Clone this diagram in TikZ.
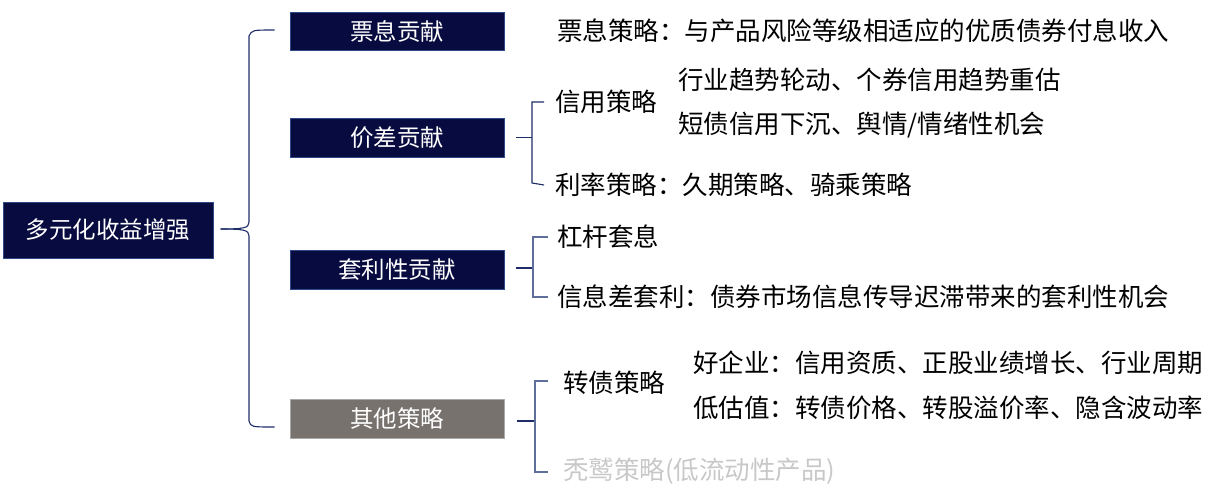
\documentclass[tikz,border=0pt]{standalone}
\usepackage{fontspec}
\newfontfamily\cjk{Noto Sans CJK SC}
\usetikzlibrary{calc}
\definecolor{navy}{RGB}{8,11,64}
\definecolor{navyedge}{RGB}{47,75,135}
\definecolor{boxgray}{RGB}{120,114,111}
\definecolor{grayedge}{RGB}{170,170,170}
\definecolor{brline}{RGB}{30,45,105}
\definecolor{brlight}{RGB}{95,110,155}
\definecolor{lighttext}{RGB}{200,200,200}
\tikzset{
  darkbox/.style={draw=navyedge, line width=1pt, fill=navy, text=white, font=\cjk\fontsize{23.5}{26}\selectfont, inner sep=0pt},
  graybox/.style={draw=grayedge, line width=1pt, fill=boxgray, text=white, font=\cjk\fontsize{23.5}{26}\selectfont, inner sep=0pt},
  lbl/.style={anchor=west, inner sep=0pt, font=\cjk\fontsize{25.5}{28}\selectfont, text=black},
  brace/.style={draw=brline, line width=1.1pt},
  lightbrace/.style={draw=brlight, line width=1.1pt}
}
\begin{document}
\begin{tikzpicture}[x=1pt,y=-1pt]
\useasboundingbox (0,0) rectangle (1224,499);
% main box
\node[darkbox, minimum width=210, minimum height=56] (main) at (108,230) {多元化收益增强};
% level-1 boxes
\node[darkbox, minimum width=214, minimum height=38] (b1) at (397,31) {票息贡献};
\node[darkbox, minimum width=214, minimum height=39] (b2) at (397,137.5) {价差贡献};
\node[darkbox, minimum width=214, minimum height=39] (b3) at (397,270) {套利性贡献};
\node[graybox, minimum width=214, minimum height=39] (b4) at (397,418.5) {其他策略};
% big brace
\coordinate (bt) at ($(b1.west)+(-15,-1)$);
\coordinate (bb) at ($(b4.west)+(-15,8.5)$);
\coordinate (bm) at ($(main.east)+(7,-1)$);
\draw[brace] (bt) .. controls (252,30) .. (249,36) -- (249,222) .. controls (249,228) and (244,229) .. (bm);
\draw[brace] (bm) .. controls (244,229) and (249,230) .. (249,236) -- (249,421) .. controls (251,427) .. (bb);
% texts
\node[lbl] (t1) at (557,31) {票息策略：与产品风险等级相适应的优质债券付息收入};
\node[lbl] (t21) at (555,102) {信用策略};
\node[lbl] (t211) at (678,80) {行业趋势轮动、个券信用趋势重估};
\node[lbl] (t212) at (678,125) {短债信用下沉、舆情/情绪性机会};
\node[lbl] (t22) at (555,185) {利率策略：久期策略、骑乘策略};
\node[lbl] (t31) at (557,237) {杠杆套息};
\node[lbl] (t32) at (557,297) {信息差套利：债券市场信息传导迟滞带来的套利性机会};
\node[lbl] (t41) at (563,383) {转债策略};
\node[lbl] (t411) at (693,363) {好企业：信用资质、正股业绩增长、行业周期};
\node[lbl] (t412) at (693,408) {低估值：转债价格、转股溢价率、隐含波动率};
\node[lbl, text=lighttext] (t42) at (563,471) {秃鹫策略(低流动性产品)};
% small brackets
\draw[brace] ($(b2.east)+(11,0)$) -- (532,137.5);
\draw[brace] ($(t21.west)+(-11,0)$) -| (532,183) -- ($(t22.west)+(-11,0)$);
\draw[brace] ($(b3.east)+(11,-2)$) -- (533,268);
\draw[lightbrace] ($(t31.west)+(-9,0)$) -| (533,297) -- ($(t32.west)+(-9,0)$);
\draw[brace] ($(b4.east)+(12,2.5)$) -- (535,421);
\draw[lightbrace] ($(t41.west)+(-15,-2)$) -| (535,472) -- ($(t42.west)+(-15,1)$);
\end{tikzpicture}
\end{document}
